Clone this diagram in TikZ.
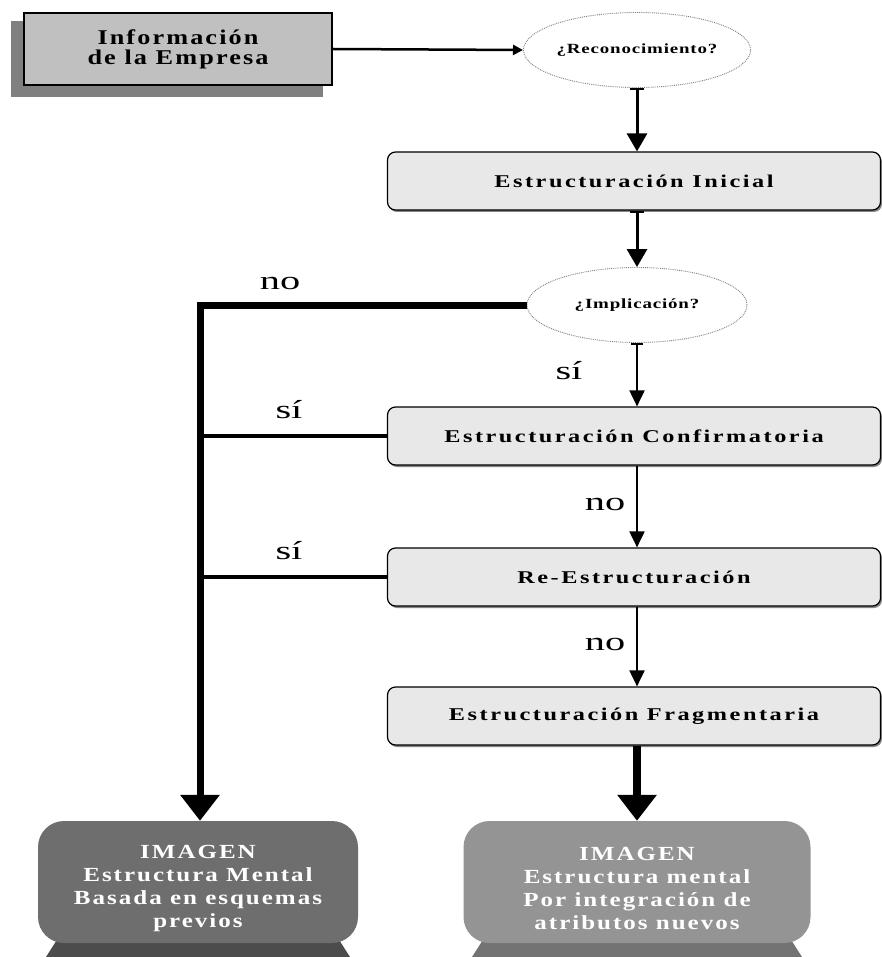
\documentclass[tikz,border=0pt]{standalone}
\usepackage{fontspec}
\setmainfont{Liberation Serif}
\newfontfamily\boxfont[FakeStretch=1.35,LetterSpace=14]{Liberation Serif}
\newfontfamily\infofont[FakeStretch=1.25,LetterSpace=10]{Liberation Serif}
\newfontfamily\qfont[FakeStretch=1.35,LetterSpace=6]{Liberation Serif}
\newfontfamily\imgfont[FakeStretch=1.25,LetterSpace=10]{Liberation Serif}
\newfontfamily\lblfont[FakeStretch=1.55]{Liberation Serif}
\usetikzlibrary{shapes.geometric,arrows.meta,shadows}
\definecolor{boxfill}{HTML}{E8E8E8}
\definecolor{infofill}{HTML}{C0C0C0}
\definecolor{infoshadow}{HTML}{808080}
\definecolor{imgdark}{HTML}{6E6E6E}
\definecolor{imglight}{HTML}{949494}
\tikzset{
  stepbox/.style={draw=black, line width=1.2pt, fill=boxfill, rounded corners=8pt,
    minimum width=493pt, minimum height=58pt, inner sep=0pt,
    font=\boxfont\bfseries\fontsize{18}{20}\selectfont,
    drop shadow={shadow xshift=1.5pt, shadow yshift=-2pt, fill=black!60, opacity=0.8}},
  question/.style={ellipse, draw=gray, densely dotted, line width=0.9pt, fill=white,
    minimum width=220pt, minimum height=75pt, inner sep=0pt,
    font=\qfont\bfseries\fontsize{14}{16}\selectfont},
  imgbox/.style={rounded corners=26pt, inner sep=0pt, minimum height=122pt},
  imgtext/.style={inner sep=0pt, text=white, align=center,
    font=\imgfont\bfseries\fontsize{20}{23}\selectfont},
  lbl/.style={font=\lblfont\fontsize{26}{28}\selectfont, inner sep=0pt},
  thinarrow/.style={draw=black, line width=2pt, -{Triangle[width=15pt,length=16pt]}},
  midarrow/.style={draw=black, line width=3pt, {Bar[width=14pt,line width=2pt]}-{Triangle[width=20pt,length=18pt]}},
  bigarrow/.style={draw=black, line width=8pt, -{Triangle[width=38pt,length=26pt]}},
}
\begin{document}
\begin{tikzpicture}[x=1pt,y=-1pt]
\useasboundingbox (0,0) rectangle (882,957);
% info box
\fill[infoshadow] (11,21) rectangle (323,97);
\node[draw=black, line width=1.5pt, fill=infofill, minimum width=308pt, minimum height=72pt,
  inner sep=0pt, align=center, font=\infofont\bfseries\fontsize{21}{20}\selectfont]
  (info) at (178,49) {Información\\de la Empresa};
% questions
\node[question] (rec) at (637,50) {¿Reconocimiento?};
\node[question] (imp) at (637,305) {¿Implicación?};
% step boxes
\node[stepbox] (ini) at (634,181) {Estructuración Inicial};
\node[stepbox] (conf) at (634,436) {Estructuración Confirmatoria};
\node[stepbox] (re) at (634,577) {Re-Estructuración};
\node[stepbox] (frag) at (634,716) {Estructuración Fragmentaria};
% image boxes
\fill[black!70] (60,935) -- (336,935) -- (350,957) -- (46,957) -- cycle;
\fill[black!55] (486,935) -- (788,935) -- (802,957) -- (472,957) -- cycle;
\node[imgbox, fill=imgdark, minimum width=320pt] (img1) at (198,882) {};
\node[imgbox, fill=imglight, minimum width=347pt] (img2) at (637,882) {};
\node[imgtext] (img1t) at ([yshift=-6pt]img1.center)
  {IMAGEN\\Estructura Mental\\Basada en esquemas\\previos};
\node[imgtext] (img2t) at ([yshift=-6pt]img2.center)
  {IMAGEN\\Estructura mental\\Por integración de\\atributos nuevos};
% connectors
\draw[line width=2.5pt, -{Triangle[width=10pt,length=10pt]}] (info.east) -- (rec.west);
\draw[midarrow] (rec.south) -- (ini.north -| rec.south);
\draw[midarrow] (ini.south -| imp.north) -- (imp.north);
\draw[thinarrow, {Bar[width=12pt,line width=2pt]}-{Triangle[width=15pt,length=16pt]}] (imp.south) -- (conf.north -| imp.south);
\draw[thinarrow] (conf.south -| imp.south) -- (re.north -| imp.south);
\draw[thinarrow] (re.south -| imp.south) -- (frag.north -| imp.south);
\draw[bigarrow] (frag.south -| imp.south) -- (img2.north -| imp.south);
\coordinate (corner) at (200,305);
\draw[bigarrow, line width=7pt] (imp.west) -- (corner) -- (img1.north -| corner);
\draw[line width=4.5pt] (conf.west) -- (conf.west -| corner);
\draw[line width=4.5pt] (re.west) -- (re.west -| corner);
% labels
\node[lbl] (lno1) at (280,284) {no};
\node[lbl] (lsi1) at (569,371) {sí};
\node[lbl] (lsi2) at (289,410) {sí};
\node[lbl] (lno2) at (605,504) {no};
\node[lbl] (lsi3) at (289,551) {sí};
\node[lbl] (lno3) at (605,644) {no};
\end{tikzpicture}
\end{document}
